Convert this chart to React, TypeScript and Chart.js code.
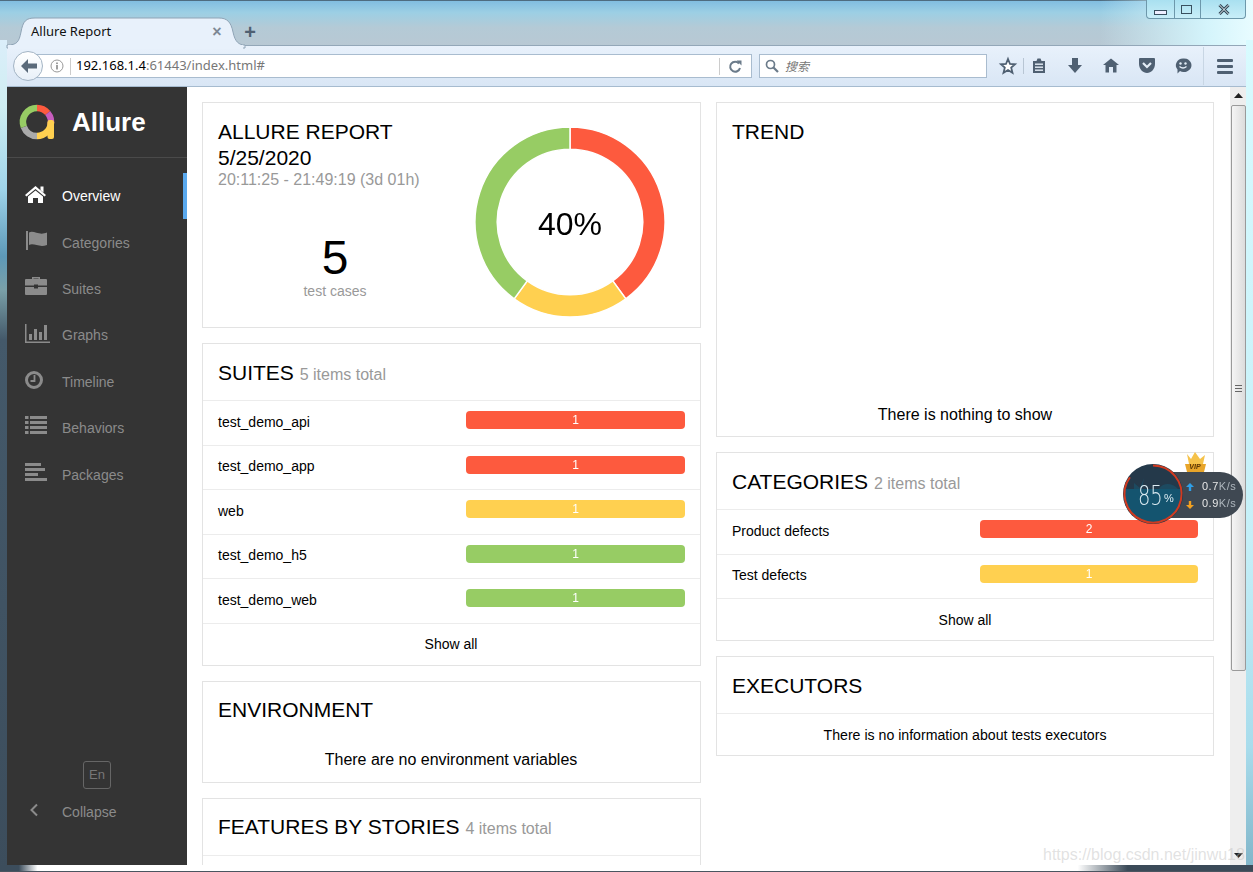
import { useEffect, useRef } from "react"
import { Chart, registerables } from "chart.js"

Chart.register(...registerables)

const RED = "#fd5a3e"
const YELLOW = "#ffd050"
const GREEN = "#97cc64"

// Overview donut
const statusLabels = ["failed", "broken", "passed"]
const statusCounts = [2, 1, 2]
const statusColors = [RED, YELLOW, GREEN]

// Suites widget
const suiteNames = ["test_demo_api", "test_demo_app", "web", "test_demo_h5", "test_demo_web"]
const suiteCounts = [1, 1, 1, 1, 1]
const suiteColors = [RED, RED, YELLOW, GREEN, GREEN]

// Categories widget
const categoryNames = ["Product defects", "Test defects"]
const categoryCounts = [2, 1]
const categoryColors = [RED, YELLOW]

const FONT = '"Liberation Sans", Arial, sans-serif'
const UI_FONT = '"Noto Sans", sans-serif'
const GREY = "#999"

function T({ x, y, size = 14, color = "#000", center, right, bold, font = FONT, italic, children }: any) {
  let transform = "translateY(-50%)"
  if (center) transform = "translate(-50%,-50%)"
  if (right) transform = "translate(-100%,-50%)"
  return (
    <div
      style={{
        position: "absolute",
        left: x,
        top: y,
        transform,
        fontSize: size,
        color,
        fontFamily: font,
        fontWeight: bold ? 700 : 400,
        fontStyle: italic ? "italic" : "normal",
        whiteSpace: "nowrap",
        lineHeight: 1.2,
      }}
    >
      {children}
    </div>
  )
}

function Box({ x, y, w, h, style, children }: any) {
  return <div style={{ position: "absolute", left: x, top: y, width: w, height: h, ...style }}>{children}</div>
}

function Card({ y, x, w, h, lines = [] }: any) {
  return (
    <>
      <Box x={x} y={y} w={w - 2} h={h - 2} style={{ border: "1px solid #e3e3e3", background: "#fff" }} />
      {lines.map((l: number) => (
        <Box key={l} x={x + 1} y={l} w={w - 2} h={1} style={{ background: "#ececec" }} />
      ))}
    </>
  )
}

// white count in the middle of the bar
const barValuePlugin = {
  id: "barValue",
  afterDatasetsDraw(chart: any) {
    const { ctx } = chart
    const bar = chart.getDatasetMeta(0).data[0]
    const value = chart.data.datasets[0].data[0]
    ctx.save()
    ctx.fillStyle = "#fff"
    ctx.font = `12px ${FONT}`
    ctx.textAlign = "center"
    ctx.textBaseline = "middle"
    ctx.fillText(String(value), chart.width / 2, bar.y + 1)
    ctx.restore()
  },
}

function StatusBar({ x, y, w = 219, value, label, color }: any) {
  const ref = useRef<HTMLCanvasElement>(null)

  useEffect(() => {
    if (!ref.current) return
    const chart = new Chart(ref.current, {
      type: "bar",
      data: {
        labels: [label],
        datasets: [
          {
            data: [value],
            backgroundColor: color,
            borderRadius: 4,
            borderSkipped: false,
            inflateAmount: 0,
            barPercentage: 1,
            categoryPercentage: 1,
          },
        ],
      },
      options: {
        indexAxis: "y",
        responsive: false,
        animation: false,
        events: [],
        plugins: { legend: { display: false }, tooltip: { enabled: false } },
        scales: {
          x: { display: false, min: 0, max: value },
          y: { display: false },
        },
      },
      plugins: [barValuePlugin],
    })
    return () => chart.destroy()
  }, [value, label, color])

  return <canvas ref={ref} width={w} height={18} style={{ position: "absolute", left: x, top: y, width: w, height: 18 }} />
}

function Donut() {
  const ref = useRef<HTMLCanvasElement>(null)

  useEffect(() => {
    if (!ref.current) return
    const chart = new Chart(ref.current, {
      type: "doughnut",
      data: {
        labels: statusLabels,
        datasets: [
          {
            data: statusCounts,
            backgroundColor: statusColors,
            borderColor: "#fff",
            borderWidth: 1.5,
          },
        ],
      },
      options: {
        responsive: false,
        animation: false,
        events: [],
        radius: 95,
        cutout: 76,
        plugins: { legend: { display: false }, tooltip: { enabled: false } },
      },
    })
    return () => chart.destroy()
  }, [])

  return <canvas ref={ref} width={200} height={200} style={{ position: "absolute", left: 470, top: 122, width: 200, height: 200 }} />
}

function Svg({ x, y, w, h, children }: any) {
  return (
    <svg width={w} height={h} viewBox={`0 0 ${w} ${h}`} style={{ position: "absolute", left: x, top: y, overflow: "visible" }}>
      {children}
    </svg>
  )
}

function arc(cx: number, cy: number, r: number, a0: number, a1: number) {
  const p = (a: number) => {
    const t = ((a - 90) * Math.PI) / 180
    return `${cx + r * Math.cos(t)} ${cy + r * Math.sin(t)}`
  }
  return `M${p(a0)} A${r} ${r} 0 ${a1 - a0 > 180 ? 1 : 0} 1 ${p(a1)}`
}

function Logo() {
  return (
    <Svg x={20} y={105} w={36} h={36}>
      <path d={arc(17, 17, 14, 0, 50)} stroke="#fd5a3e" strokeWidth={6.5} fill="none" />
      <path d={arc(17, 17, 14, 50, 105)} stroke="#c75dbd" strokeWidth={6.5} fill="none" />
      <path d={arc(17, 17, 14, 90, 180)} stroke="#ffd050" strokeWidth={6.5} fill="none" />
      <path d={arc(17, 17, 14, 180, 250)} stroke="#aaa" strokeWidth={6.5} fill="none" />
      <path d={arc(17, 17, 14, 250, 360)} stroke="#97cc64" strokeWidth={6.5} fill="none" />
      <rect x={27.5} y={15} width={6.5} height={19} rx={2} fill="#ffd050" />
    </Svg>
  )
}

function SideIcons() {
  const c = "#8b8b8b"
  return (
    <>
      <Svg x={25} y={185} w={22} h={18}>
        <path d="M10.5 1 L21 10 L19.5 11.5 L10.5 4 L1.5 11.5 L0 10 Z M15.5 1.5 h3 v6 l-3 -2.5 Z" fill="#fff" />
        <path d="M10.5 5.5 L18 11.5 V18 H13 V13 H8 V18 H3 V11.5 Z" fill="#fff" />
      </Svg>
      <Svg x={26} y={231} w={22} h={20}>
        <rect x={0} y={0} width={2} height={19} fill={c} />
        <path d="M3 1.5 C8 -1 13 5 21 1.5 V14 C13 17 8 11.5 3 14 Z" fill={c} />
      </Svg>
      <Svg x={25} y={276} w={22} h={19}>
        <path d="M7 3 V1 H15 V3 H13.5 V2.4 H8.5 V3 Z" fill={c} />
        <path d="M1 3 H21 a1 1 0 0 1 1 1 V9.5 H13 V8.5 H9 V9.5 H0 V4 a1 1 0 0 1 1 -1 Z" fill={c} />
        <path d="M0 11 H9 V12.5 H13 V11 H22 V18 a1 1 0 0 1 -1 1 H1 a1 1 0 0 1 -1 -1 Z" fill={c} />
      </Svg>
      <Svg x={25} y={324} w={26} h={20}>
        <path d="M0 0 H1.5 V17.5 H25 V19 H0 Z" fill={c} />
        <rect x={4} y={10} width={3} height={6} fill={c} />
        <rect x={9} y={5} width={3} height={11} fill={c} />
        <rect x={14} y={8} width={3} height={8} fill={c} />
        <rect x={19} y={1} width={3} height={15} fill={c} />
      </Svg>
      <Svg x={25} y={371} w={19} h={19}>
        <circle cx={9} cy={9} r={7.5} stroke={c} strokeWidth={3} fill="none" />
        <path d="M9.5 4 V10 H5.5" stroke={c} strokeWidth={1.8} fill="none" />
      </Svg>
      <Svg x={25} y={416} w={22} h={19}>
        {[0, 5, 10, 15].map((v) => (
          <g key={v}>
            <rect x={0} y={v} width={3.5} height={3} fill={c} />
            <rect x={5} y={v} width={17} height={3} fill={c} />
          </g>
        ))}
      </Svg>
      <Svg x={25} y={463} w={22} h={18}>
        <rect x={0} y={0} width={16} height={3} fill={c} />
        <rect x={0} y={5} width={20} height={3} fill={c} />
        <rect x={0} y={10} width={13} height={3} fill={c} />
        <rect x={0} y={15} width={22} height={3} fill={c} />
      </Svg>
      <Svg x={29} y={803} w={10} h={14}>
        <path d="M8 1.5 L2.5 7 L8 12.5" stroke="#8b8b8b" strokeWidth={2} fill="none" />
      </Svg>
    </>
  )
}

function BrowserChrome() {
  const c = "#4f6072"
  return (
    <>
      {/* glass title bar */}
      <Box
        x={0}
        y={0}
        w={1253}
        h={50}
        style={{
          background:
            "linear-gradient(180deg, #7fbce0 0%, #9ccfe4 25%, #b4cad6 55%, #b9c8d3 100%)",
        }}
      />
      <Box x={0} y={0} w={1253} h={1} style={{ background: "#4e6c80" }} />
      <Box x={1100} y={0} w={153} h={46} style={{ background: "linear-gradient(90deg, rgba(200,240,250,0) 0%, #d4f4fb 70%, #e8fcff 100%)" }} />
      {/* side frames */}
      <Box
        x={0}
        y={40}
        w={7}
        h={832}
        style={{
          background:
            "linear-gradient(180deg, #dbeefa 0%, #cfeef2 8%, #9fd4ea 18%, #5d99b8 26%, #7aa0a8 30%, #44596a 36%, #3c4d5c 100%)",
        }}
      />
      <Box x={1246} y={40} w={7} h={832} style={{ background: "linear-gradient(180deg, #d8fbff 0%, #c5f0f8 60%, #a8dcec 85%, #7fb4c8 100%)" }} />

      {/* window buttons */}
      <Box x={1146} y={0} w={100} h={19} style={{ background: "linear-gradient(180deg, #a9e0f0, #c8eef8)", border: "1px solid #6d98ab", borderTop: "none", borderRadius: "0 0 4px 4px", boxSizing: "border-box" }} />
      <Box x={1174} y={0} w={1} h={19} style={{ background: "#6d98ab" }} />
      <Box x={1200} y={0} w={1} h={19} style={{ background: "#6d98ab" }} />
      <Box x={1154} y={10} w={11} h={3} style={{ background: "#eef", border: "1px solid #39505f" }} />
      <Box x={1181} y={5} w={9} h={7} style={{ border: "1.5px solid #39505f" }} />
      <Svg x={1218} y={4} w={12} h={11}>
        <path d="M1.5 1 L10.5 10 M10.5 1 L1.5 10" stroke="#2d4252" strokeWidth={3} />
        <path d="M1.5 1 L10.5 10 M10.5 1 L1.5 10" stroke="#eef6fa" strokeWidth={1} />
      </Svg>

      {/* toolbar */}
      <Box x={7} y={45} w={1239} h={42} style={{ background: "linear-gradient(180deg, #e8f1fb, #d9e6f5)", borderTop: "1px solid #93a7b8", borderBottom: "1px solid #a6bbcf", boxSizing: "border-box" }} />

      {/* tab */}
      <Svg x={5} y={16} w={240} h={32}>
        <path
          d="M2 29 C12 29 14 26 16 16 C18 5 21 2 30 2 H214 C222 2 226 6 228 16 C230 26 234 29 240 29 V32 H2 Z"
          fill="#e8f1fb"
          stroke="#8fa4b6"
          strokeWidth={1}
        />
        <rect x={3} y={29} width={235} height={4} fill="#e8f1fb" />
      </Svg>
      <T x={31} y={32} size={13} font={UI_FONT} color="#111">
        Allure Report
      </T>
      <T x={217} y={32} size={16} center bold color="#7d8894">
        ×
      </T>
      <T x={250} y={32} size={20} center bold color={c}>
        +
      </T>

      {/* url bar */}
      <Box x={28} y={54} w={724} h={24} style={{ background: "#fff", border: "1px solid #a9bccf", boxSizing: "border-box" }} />
      <Box x={13} y={51} w={30} h={30} style={{ background: "linear-gradient(180deg,#fff,#e8f0f8)", border: "1px solid #a3b4c4", borderRadius: "50%", boxSizing: "border-box" }} />
      <Svg x={20} y={58} w={18} h={16}>
        <path d="M8 1 L1 8 L8 15 V10.5 H17 V5.5 H8 Z" fill="#5a6a7a" />
      </Svg>
      <Svg x={50} y={59} w={14} h={14}>
        <circle cx={7} cy={7} r={6} stroke="#999" fill="#fff" />
        <rect x={6.2} y={6} width={1.6} height={4.5} fill="#888" />
        <rect x={6.2} y={3.5} width={1.6} height={1.6} fill="#888" />
      </Svg>
      <Box x={70} y={58} w={1} h={17} style={{ background: "#ccc" }} />
      <T x={76} y={66} size={13} font={UI_FONT} color="#000">
        192.168.1.4<span style={{ color: "#777" }}>:61443/index.html#</span>
      </T>
      <Box x={719} y={58} w={1} h={17} style={{ background: "#ccc" }} />
      <Svg x={729} y={60} w={13} h={13}>
        <path d="M10 3.5 A5 5 0 1 0 11 8" stroke="#6b7b8a" strokeWidth={2} fill="none" />
        <path d="M7.5 0.5 H12.5 V5.5 Z" fill="#6b7b8a" />
      </Svg>

      {/* search bar */}
      <Box x={759} y={54} w={228} h={24} style={{ background: "#fff", border: "1px solid #a9bccf", boxSizing: "border-box" }} />
      <Svg x={765} y={59} w={14} h={14}>
        <circle cx={5.5} cy={5.5} r={4} stroke="#6b7b8a" strokeWidth={1.7} fill="none" />
        <path d="M8.5 8.5 L13 13" stroke="#6b7b8a" strokeWidth={2.2} />
      </Svg>
      <T x={785} y={66} size={12} italic font='"Noto Sans CJK SC", sans-serif' color="#777">
        搜索
      </T>

      {/* toolbar buttons */}
      <Svg x={1000} y={58} w={16} h={16}>
        <path d="M8 1 L10 6 L15 6.3 L11.2 9.6 L12.5 14.8 L8 12 L3.5 14.8 L4.8 9.6 L1 6.3 L6 6 Z" fill="#fff" stroke={c} strokeWidth={1.8} />
      </Svg>
      <Box x={1023} y={58} w={1} h={16} style={{ background: "#b8c6d4" }} />
      <Svg x={1032} y={58} w={14} h={15}>
        <path d="M1 3 H4.5 L5.5 0.5 H8.5 L9.5 3 H13 V15 H1 Z" fill={c} />
        <rect x={3} y={5.5} width={8} height={1.4} fill="#e4edf7" />
        <rect x={3} y={8.5} width={8} height={1.4} fill="#e4edf7" />
        <rect x={3} y={11.5} width={8} height={1.4} fill="#e4edf7" />
      </Svg>
      <Svg x={1067} y={58} w={16} h={16}>
        <path d="M5 0 H11 V7 H15 L8 15 L1 7 H5 Z" fill={c} />
      </Svg>
      <Svg x={1103} y={58} w={16} h={15}>
        <path d="M8 0.5 L16 7 H13.5 V14.5 H10 V9 H6 V14.5 H2.5 V7 H0 Z" fill={c} />
      </Svg>
      <Svg x={1139} y={58} w={16} h={15}>
        <path d="M0 1 a1 1 0 0 1 1 -1 H15 a1 1 0 0 1 1 1 V6 C16 11 12 15 8 15 C4 15 0 11 0 6 Z" fill={c} />
        <path d="M4 5 L8 9 L12 5" stroke="#e4edf7" strokeWidth={2.2} fill="none" />
      </Svg>
      <Svg x={1175} y={58} w={16} h={16}>
        <path d="M8 0.5 A7.5 6.8 0 1 1 5 13 L2.5 15.5 V11.5 A7.5 6.8 0 0 1 8 0.5 Z" fill={c} />
        <circle cx={5.5} cy={5.5} r={1.2} fill="#e4edf7" />
        <circle cx={10.5} cy={5.5} r={1.2} fill="#e4edf7" />
        <path d="M4.5 8.5 Q8 11.5 11.5 8.5" stroke="#e4edf7" strokeWidth={1.3} fill="none" />
      </Svg>
      <Box x={1203} y={47} w={1} h={38} style={{ background: "#c8d6e4" }} />
      {[59, 65, 71].map((v) => (
        <Box key={v} x={1217} y={v} w={16} h={3} style={{ background: c, borderRadius: 1 }} />
      ))}
    </>
  )
}

function Scrollbar() {
  return (
    <>
      <Box x={1230} y={87} w={16} h={778} style={{ background: "#eeeeee" }} />
      <Svg x={1234} y={93} w={9} h={6}>
        <path d="M4.5 0 L9 5 H0 Z" fill="#222" />
      </Svg>
      <Box
        x={1231}
        y={105}
        w={15}
        h={566}
        style={{ background: "linear-gradient(90deg,#f5f5f5,#dcdcdc)", border: "1px solid #9a9a9a", borderRadius: 2, boxSizing: "border-box" }}
      />
      {[385, 388, 391].map((v) => (
        <Box key={v} x={1235} y={v} w={7} h={1} style={{ background: "#666" }} />
      ))}
      <Svg x={1234} y={853} w={9} h={6}>
        <path d="M0 0 H9 L4.5 5 Z" fill="#222" />
      </Svg>
    </>
  )
}

function SpeedWidget() {
  return (
    <>
      <Box x={1153} y={472} w={90} h={46} style={{ background: "#3f4852", borderRadius: "0 23px 23px 0" }} />
      <Svg x={1122} y={463} w={62} h={62}>
        <defs>
          <clipPath id="ball">
            <circle cx={31} cy={31} r={29} />
          </clipPath>
        </defs>
        <circle cx={31} cy={31} r={30} fill="#24394a" />
        <rect x={0} y={26} width={62} height={40} fill="#14546f" clipPath="url(#ball)" />
        <path d="M37 26 C40 20 50 19 56 26 Z M12 20 L18 25 L22 15 L20 26 H12 Z" fill="#1d4a60" />
        <path d={arc(31, 31, 28.5, 0, 306)} stroke="#d13a20" strokeWidth={2} fill="none" />
      </Svg>
      <T x={1138} y={496} size={27} color="#dcebf2" font='"DejaVu Sans", sans-serif'>
        <span style={{ display: "inline-block", transform: "scaleX(0.72)", transformOrigin: "left", fontWeight: 300 }}>85</span>
      </T>
      <T x={1164} y={499} size={11} color="#dcebf2">
        %
      </T>
      <Svg x={1186} y={483} w={8} h={8}>
        <path d="M4 0 L8 4 H5.2 V8 H2.8 V4 H0 Z" fill="#2e9fe8" />
      </Svg>
      <Svg x={1186} y={501} w={8} h={8}>
        <path d="M2.8 0 H5.2 V4 H8 L4 8 L0 4 H2.8 Z" fill="#f2a020" />
      </Svg>
      <T x={1202} y={487} size={11} color="#e6e6e6">
        <span style={{ letterSpacing: 0.5 }}>
          0.7<span style={{ color: "#aeb6bd" }}>K/s</span>
        </span>
      </T>
      <T x={1202} y={504} size={11} color="#e6e6e6">
        <span style={{ letterSpacing: 0.5 }}>
          0.9<span style={{ color: "#aeb6bd" }}>K/s</span>
        </span>
      </T>
      <Svg x={1184} y={451} w={24} h={22}>
        <path d="M3 3 L7 8 L11 1 L16 8 L21 4 L19 13 H5 Z" fill="#f5c24a" />
        <path d="M1 13 H22 L20 21 H3 Z" fill="#e8a52a" />
      </Svg>
      <T x={1195} y={467} size={7} center bold italic color="#5a3a08">
        VIP
      </T>
    </>
  )
}

const navItems = ["Overview", "Categories", "Suites", "Graphs", "Timeline", "Behaviors", "Packages"]
const navY = [196, 243, 289, 335, 382, 428, 475]
const suiteRowY = [420, 465, 509, 554, 598]
const suiteLabelY = [422, 466, 511, 555, 600]
const categoryRowY = [529, 574]
const categoryLabelY = [531, 575]

export default function App() {
  return (
    <div style={{ position: "fixed", left: 0, top: 0, width: 1253, height: 872, overflow: "hidden", background: "#fff" }}>
      <BrowserChrome />

      {/* page */}
      <Box x={7} y={87} w={1239} h={778} style={{ background: "#fff" }} />

      {/* sidebar */}
      <Box x={7} y={87} w={180} h={778} style={{ background: "#343434" }} />
      <Box x={7} y={157} w={180} h={1} style={{ background: "#4a4a4a" }} />
      <Box x={183} y={173} w={4} h={46} style={{ background: "#5aa9ee" }} />
      <Logo />
      <T x={72} y={122.5} size={26} bold color="#fff">
        Allure
      </T>
      <SideIcons />
      {navItems.map((n, i) => (
        <T key={n} x={62} y={navY[i]} color={i === 0 ? "#fff" : "#8b8b8b"}>
          {n}
        </T>
      ))}
      <Box x={83} y={761} w={26} h={26} style={{ border: "1px solid #666", borderRadius: 3 }} />
      <T x={97} y={775} size={13} center color="#777">
        En
      </T>
      <T x={62} y={812} color="#8b8b8b">
        Collapse
      </T>

      {/* left column */}
      <Card x={202} y={102} w={499} h={226} />
      <T x={218} y={132} size={21}>
        ALLURE REPORT
      </T>
      <T x={218} y={158} size={21}>
        5/25/2020
      </T>
      <T x={218} y={180} size={16} color={GREY}>
        20:11:25 - 21:49:19 (3d 01h)
      </T>
      <T x={335} y={258} size={48} center>
        5
      </T>
      <T x={335} y={291} size={14} center color={GREY}>
        test cases
      </T>
      <Donut />
      <T x={570} y={224} size={32} center>
        40%
      </T>

      <Card x={202} y={343} w={499} h={323} lines={[400, 445, 489, 534, 578, 623]} />
      <T x={218} y={373} size={21}>
        SUITES <span style={{ fontSize: 16, color: GREY }}>5 items total</span>
      </T>
      {suiteNames.map((n, i) => (
        <T key={n} x={218} y={suiteLabelY[i]}>
          {n}
        </T>
      ))}
      {suiteNames.map((n, i) => (
        <StatusBar key={n} x={466} y={suiteRowY[i] - 9} value={suiteCounts[i]} label={n} color={suiteColors[i]} />
      ))}
      <T x={451} y={644} center>
        Show all
      </T>

      <Card x={202} y={681} w={499} h={102} />
      <T x={218} y={710} size={21}>
        ENVIRONMENT
      </T>
      <T x={451} y={760} size={16} center>
        There are no environment variables
      </T>

      <Box x={202} y={798} w={497} h={80} style={{ border: "1px solid #e3e3e3" }} />
      <Box x={203} y={855} w={497} h={1} style={{ background: "#ececec" }} />
      <T x={218} y={827} size={21}>
        FEATURES BY STORIES <span style={{ fontSize: 16, color: GREY }}>4 items total</span>
      </T>

      {/* right column */}
      <Card x={716} y={102} w={498} h={335} />
      <T x={732} y={132} size={21}>
        TREND
      </T>
      <T x={965} y={415} size={16} center>
        There is nothing to show
      </T>

      <Card x={716} y={452} w={498} h={189} lines={[509, 554, 598]} />
      <T x={732} y={482} size={21}>
        CATEGORIES <span style={{ fontSize: 16, color: GREY }}>2 items total</span>
      </T>
      {categoryNames.map((n, i) => (
        <T key={n} x={732} y={categoryLabelY[i]}>
          {n}
        </T>
      ))}
      {categoryNames.map((n, i) => (
        <StatusBar key={n} x={980} y={categoryRowY[i] - 9} w={218} value={categoryCounts[i]} label={n} color={categoryColors[i]} />
      ))}
      <T x={965} y={620} center>
        Show all
      </T>

      <Card x={716} y={656} w={498} h={100} lines={[713]} />
      <T x={732} y={686} size={21}>
        EXECUTORS
      </T>
      <T x={965} y={735} size={14.15} center>
        There is no information about tests executors
      </T>

      <Scrollbar />
      <SpeedWidget />

      <Box x={0} y={865} w={1253} h={7} style={{ background: "linear-gradient(90deg, #3c4d5c 0%, #3c4d5c 1.5%, #fff 3%, #fff 86%, #3b4a58 90%, #3b4a58 100%)" }} />
      <Box x={0} y={871} w={1253} h={1} style={{ background: "#4a5560" }} />
      <T x={1043} y={855} size={16} color="rgba(190,190,190,0.45)">
        https://blog.csdn.net/jinwu18
      </T>
    </div>
  )
}
